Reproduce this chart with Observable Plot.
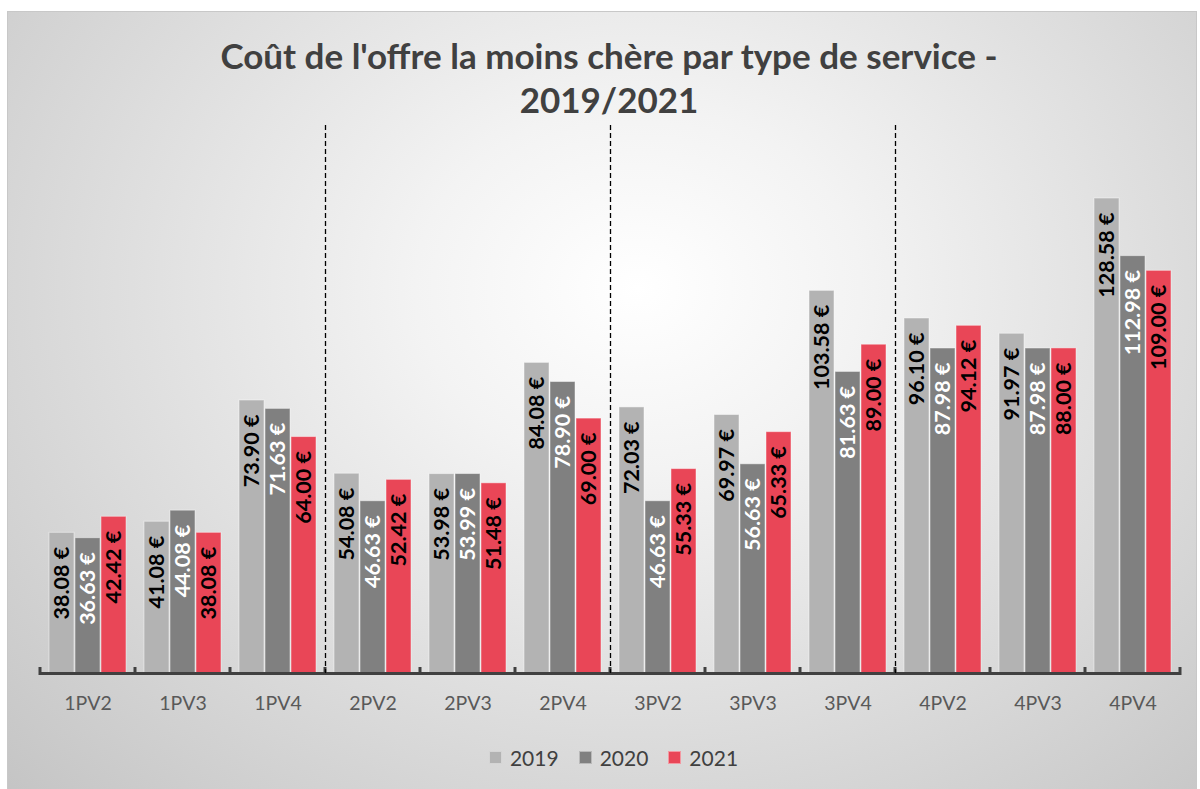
<!DOCTYPE html>
<html>
<head>
<meta charset="utf-8">
<script src="https://cdn.jsdelivr.net/npm/d3@7"></script>
<script src="https://cdn.jsdelivr.net/npm/@observablehq/plot@0.6"></script>
<style>
  html, body { margin: 0; padding: 0; background: #fff; }
  #wrap { position: relative; width: 1200px; height: 789px; overflow: hidden; font-family: Lato, "Open Sans", sans-serif; }
  #bg { position: absolute; left: 7px; top: 11px; width: 1190px; height: 790px; box-sizing: border-box;
        border: 1px solid #c8c8c8;
        background: radial-gradient(ellipse farthest-corner at 53% 35%, #ffffff 0%, #f3f3f3 25%, #c4c4c4 100%); }
  #content { position: relative; z-index: 1; }
  #title { height: 120px; box-sizing: border-box; padding-top: 33px; text-align: center; color: #404040;
           font-weight: bold; font-size: 35px; line-height: 44px; padding-left: 18px; }
  #chart { height: 600px; }
  #legend { height: 69px; display: flex; justify-content: center; align-items: flex-start; padding-top: 25px;
            box-sizing: border-box; font-size: 21px; color: #404040; padding-left: 27px; }
  .item { display: flex; align-items: center; margin: 0 10px; }
  .sw { width: 13px; height: 13px; margin-right: 8px; box-sizing: border-box; }
</style>
</head>
<body>
<div id="wrap">
  <div id="bg"></div>
  <div id="content">
    <div id="title">Coût de l'offre la moins chère par type de service -<br>2019/2021</div>
    <div id="chart"></div>
    <div id="legend"></div>
  </div>
</div>
<script>
const categories = ["1PV2","1PV3","1PV4","2PV2","2PV3","2PV4","3PV2","3PV3","3PV4","4PV2","4PV3","4PV4"];
const years = ["2019","2020","2021"];
const values2019 = [38.08, 41.08, 73.90, 54.08, 53.98, 84.08, 72.03, 69.97, 103.58, 96.10, 91.97, 128.58];
const values2020 = [36.63, 44.08, 71.63, 46.63, 53.99, 78.90, 46.63, 56.63, 81.63, 87.98, 87.98, 112.98];
const values2021 = [42.42, 38.08, 64.00, 52.42, 51.48, 69.00, 55.33, 65.33, 89.00, 94.12, 88.00, 109.00];
const separatorsBefore = ["2PV2", "3PV2", "4PV2"];

const colors = {"2019": "#b3b3b3", "2020": "#808080", "2021": "#e94657"};
const labelColors = {"2019": "#000000", "2020": "#ffffff", "2021": "#000000"};

const series = [values2019, values2020, values2021];
const rows = [];
categories.forEach((c, i) => {
  years.forEach((y, j) => rows.push({cat: c, year: y, value: series[j][i]}));
});

const plot = Plot.plot({
  width: 1200,
  height: 600,
  marginLeft: 36,
  marginRight: 16,
  marginTop: 78,
  marginBottom: 47,
  style: {background: "transparent", fontFamily: "Lato, 'Open Sans', sans-serif", overflow: "visible"},
  facet: {data: rows, x: "cat"},
  fx: {domain: categories, padding: 0, label: null, tickSize: 0, tickPadding: 23},
  x: {domain: years, paddingInner: 0.04, paddingOuter: 0.34, axis: null},
  y: {axis: null, domain: [0, d3.max(rows, d => d.value)]},
  color: {domain: years, range: years.map(y => colors[y])},
  marks: [
    Plot.barY(rows, {x: "year", y: "value", fill: "year", stroke: "#ffffff", strokeOpacity: 0.45, strokeWidth: 1}),
    Plot.text(rows, {
      x: "year", y: "value",
      text: d => d.value.toFixed(2) + " €",
      rotate: -90, textAnchor: "end", lineAnchor: "middle",
      dy: 14, fontSize: 21.5, fontWeight: "bold",
      fill: d => labelColors[d.year]
    }),
    Plot.ruleY([0], {stroke: "#404040", strokeWidth: 3})
  ]
});

document.getElementById("chart").appendChild(plot);

// axis tick labels style
d3.select(plot).selectAll("[aria-label='fx-axis tick label'] text, [aria-label='fx-axis'] text")
  .attr("fill", "#595959").style("font-size", "19.5px");

// boundaries from the fx scale: ticks and dashed separators
const fx = plot.scale("fx");
const bw = fx.bandwidth !== undefined ? fx.bandwidth : (fx.range[1] - fx.range[0]) / categories.length;
const yS = plot.scale("y");
const y0 = yS.apply(0);
const bounds = categories.map(c => fx.apply(c)).concat([fx.apply(categories[categories.length - 1]) + bw]);
const svg = d3.select(plot);
svg.append("g").selectAll("line").data(bounds).join("line")
  .attr("x1", d => d).attr("x2", d => d)
  .attr("y1", y0 - 6).attr("y2", y0 + 2)
  .attr("stroke", "#404040").attr("stroke-width", 3);
svg.append("g").selectAll("line").data(separatorsBefore).join("line")
  .attr("x1", c => Math.round(fx.apply(c)) + 0.5).attr("x2", c => Math.round(fx.apply(c)) + 0.5)
  .attr("y1", 5).attr("y2", y0)
  .attr("stroke", "#000").attr("stroke-width", 1.3).attr("stroke-dasharray", "5,3");

// legend
const legend = d3.select("#legend");
years.forEach(y => {
  const it = legend.append("div").attr("class", "item");
  it.append("div").attr("class", "sw").style("background", colors[y]).style("border", "1px solid rgba(255,255,255,0.45)");
  it.append("span").text(y);
});
</script>
</body>
</html>
